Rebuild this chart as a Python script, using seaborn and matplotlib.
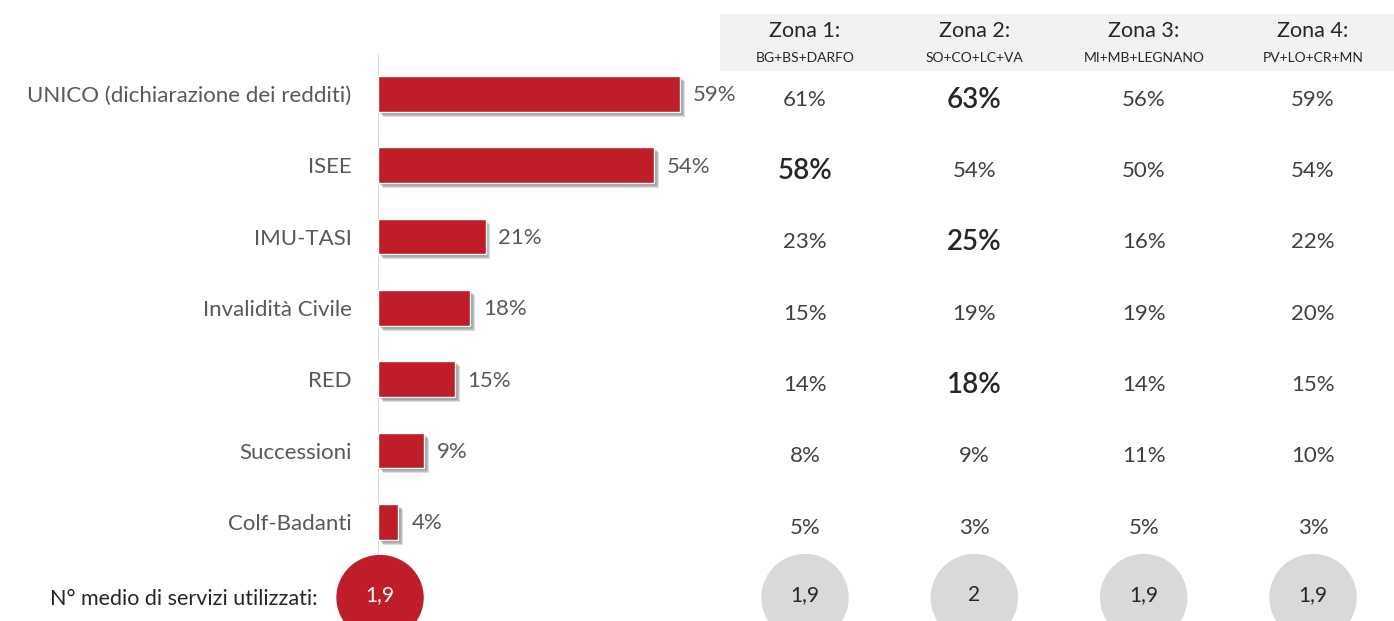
import matplotlib
matplotlib.use("Agg")
import matplotlib.pyplot as plt
import matplotlib.patheffects as pe
from matplotlib.patches import Ellipse
import seaborn as sns

# data
services = ["UNICO (dichiarazione dei redditi)", "ISEE", "IMU-TASI", "Invalidità Civile",
            "RED", "Successioni", "Colf-Badanti"]
share_total = [59, 54, 21, 18, 15, 9, 4]
zones = ["Zona 1:", "Zona 2:", "Zona 3:", "Zona 4:"]
zone_areas = ["BG+BS+DARFO", "SO+CO+LC+VA", "MI+MB+LEGNANO", "PV+LO+CR+MN"]
zone_values = [
    [61, 58, 23, 15, 14, 8, 5],
    [63, 54, 25, 19, 18, 9, 3],
    [56, 50, 16, 19, 14, 11, 5],
    [59, 54, 22, 20, 15, 10, 3],
]
# highlighted (bigger) cells: (zone index, service index)
highlights = [(0, 1), (1, 0), (1, 2), (1, 4)]
avg_label = "N° medio di servizi utilizzati:"
avg_total = "1,9"
avg_zones = ["1,9", "2", "1,9", "1,9"]

RED = "#BF1E28"
GREY_TXT = "#595959"
DARK = "#262626"

sns.set_style("white")
plt.rcParams["font.family"] = ["Lato", "DejaVu Sans"]

W, H = 1394, 621
fig = plt.figure(figsize=(W / 100, H / 100), dpi=100)

# row mapping: row 0 center at 94px from top, 71.33px per row
row_top = (0 - 94) / 71.33
row_bot = (H - 94) / 71.33

# bar panel
px_per_pct = 5.12
ax = fig.add_axes([378 / W, 0, 70 * px_per_pct / W, 1])
sns.barplot(x=share_total, y=services, orient="h", color=RED, saturation=1,
            width=0.5, ax=ax)
ax.set_xlim(0, 70)
ax.set_ylim(row_bot, row_top)
shadow = [pe.SimplePatchShadow(offset=(k, -k), shadow_rgbFace="#606060", alpha=0.22)
          for k in (3.5, 2.8, 2.1, 1.4)]
for p in ax.patches:
    p.set_path_effects(shadow + [pe.Normal()])
for i, v in enumerate(share_total):
    ax.text(v + 2.5, i + 0.02, f"{v}%", ha="left", va="center", fontsize=16,
            color=GREY_TXT)
ax.set_xlabel("")
ax.set_ylabel("")
ax.set_xticks([])
ax.tick_params(axis="y", length=0, pad=19, labelsize=16, labelcolor=GREY_TXT)
for s in ax.spines.values():
    s.set_visible(False)
ax.axvline(0, ymin=1 - 560 / H, ymax=1 - 55 / H, color="#D9D9D9", lw=1.5, zorder=0)

# average row (bar panel)
ax.add_patch(Ellipse((0.4, 7.06), width=86 / px_per_pct, height=84 / 71.33,
                     color=RED, clip_on=False, zorder=3))
ax.text(0.4, 7.02, avg_total, ha="center", va="center", fontsize=15, color="white", zorder=4)
ax.text(-(378 - 318) / px_per_pct, 7.08, avg_label, ha="right", va="center",
        fontsize=15.5, color=DARK)

# table panel
tax = fig.add_axes([720 / W, 0, 674 / W, 1])
tax.set_xlim(-0.502, 3.478)
tax.set_ylim(row_bot, row_top)
tax.axis("off")
tax.axhspan(-1.12, -0.336, color="#F2F2F4", zorder=0)
for j, (z, a) in enumerate(zip(zones, zone_areas)):
    tax.text(j, -0.88, z, ha="center", va="center", fontsize=15.5, color=DARK)
    tax.text(j, -0.50, a, ha="center", va="center", fontsize=10, color=DARK)
    for i, v in enumerate(zone_values[j]):
        big = (j, i) in highlights
        tax.text(j, i + 0.08, f"{v}%", ha="center", va="center",
                 fontsize=20 if big else 16, color=DARK if big else "#404040",
                 fontweight="semibold" if big else "normal")
    tax.add_patch(Ellipse((j, 7.06), width=86 / 169.33, height=86 / 71.33,
                          color="#D9D9D9", clip_on=False, zorder=1))
    tax.text(j, 7.02, avg_zones[j], ha="center", va="center", fontsize=15, color=DARK, zorder=2)

fig.savefig("out.png", dpi=100)
